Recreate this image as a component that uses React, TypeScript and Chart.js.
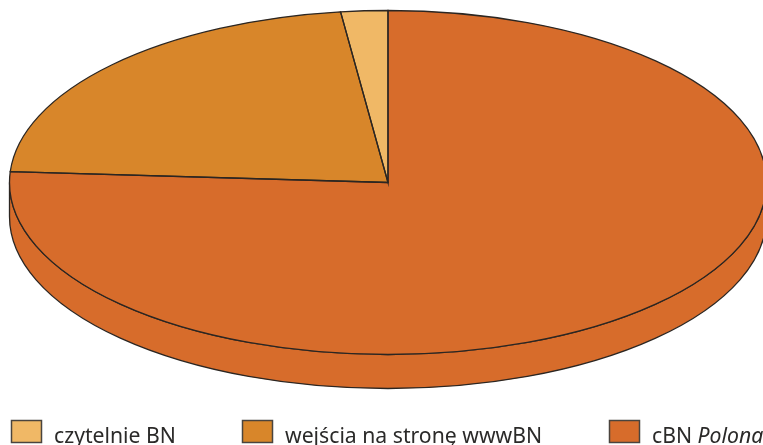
import React, { useEffect, useRef } from "react";
import { Chart, registerables } from "chart.js";

Chart.register(...registerables);

const legendCategories = ["czytelnie BN", "wejścia na stronę wwwBN", "cBN Polona"];
const legendColors = ["#F0B866", "#D8862A", "#D76C2B"];
const shares = [2, 22, 76];
const OUTLINE = "#2B2622";
const FONT = '"Noto Sans"';

const CX = 388;
const CY = 182.5;
const RX = 378.5;
const RY = 172;
const DEPTH = 34;

const pie3d = {
  id: "pie3d",
  beforeDatasetsDraw(chart: any) {
    const { ctx } = chart;
    const arcs = chart.getDatasetMeta(0).data;
    ctx.save();
    ctx.lineWidth = 1.3;
    ctx.strokeStyle = OUTLINE;
    for (const a of arcs) {
      for (const shift of [0, -2 * Math.PI]) {
        const lo = Math.max(a.startAngle + shift, 0);
        const hi = Math.min(a.endAngle + shift, Math.PI);
        if (hi <= lo) continue;
        ctx.beginPath();
        ctx.ellipse(CX, CY + DEPTH, RX, RY, 0, lo, hi);
        ctx.ellipse(CX, CY, RX, RY, 0, hi, lo, true);
        ctx.closePath();
        ctx.fillStyle = a.options.backgroundColor;
        ctx.fill();
        ctx.stroke();
      }
    }
    ctx.restore();
    const a0 = arcs[0];
    const R = a0.outerRadius;
    ctx.save();
    ctx.translate(CX, CY);
    ctx.scale(RX / R, RY / R);
    ctx.translate(-a0.x, -a0.y);
  },
  afterDatasetsDraw(chart: any) {
    const { ctx } = chart;
    ctx.restore();
    ctx.save();
    ctx.lineWidth = 1.3;
    ctx.strokeStyle = OUTLINE;
    for (const a of chart.getDatasetMeta(0).data) {
      ctx.beginPath();
      ctx.moveTo(CX, CY);
      ctx.ellipse(CX, CY, RX, RY, 0, a.startAngle, a.endAngle);
      ctx.closePath();
      ctx.stroke();
    }
    ctx.restore();
  },
  afterDraw(chart: any) {
    const { ctx } = chart;
    const boxes = [11.5, 242.5, 609.5];
    const texts = [54, 285, 652];
    ctx.save();
    ctx.textBaseline = "alphabetic";
    legendCategories.forEach((label, i) => {
      ctx.fillStyle = legendColors[i];
      ctx.strokeStyle = "#4A443E";
      ctx.lineWidth = 1.5;
      ctx.fillRect(boxes[i], 420.5, 30, 22);
      ctx.strokeRect(boxes[i], 420.5, 30, 22);
      ctx.fillStyle = "#2B2A29";
      const italic = label.indexOf("Polona");
      const head = italic >= 0 ? label.slice(0, italic) : label;
      ctx.font = `21.2px ${FONT}`;
      ctx.fillText(head, texts[i], 442.5);
      if (italic >= 0) {
        const w = ctx.measureText(head).width;
        ctx.font = `italic 21.2px ${FONT}`;
        ctx.fillText(label.slice(italic), texts[i] + w, 442.5);
      }
    });
    ctx.restore();
  },
};

export default function App() {
  const ref = useRef<HTMLCanvasElement>(null);
  useEffect(() => {
    document.body.style.margin = "0";
    const chart = new Chart(ref.current!, {
      type: "pie",
      data: {
        labels: [...legendCategories].reverse(),
        datasets: [
          {
            data: [...shares].reverse(),
            backgroundColor: [...legendColors].reverse(),
            borderWidth: 0,
            clip: false,
          } as any,
        ],
      },
      options: {
        responsive: false,
        animation: false,
        events: [],
        plugins: { legend: { display: false }, tooltip: { enabled: false } },
      },
      plugins: [pie3d],
    });
    return () => chart.destroy();
  }, []);
  return <canvas ref={ref} width={763} height={445} style={{ display: "block" }} />;
}
